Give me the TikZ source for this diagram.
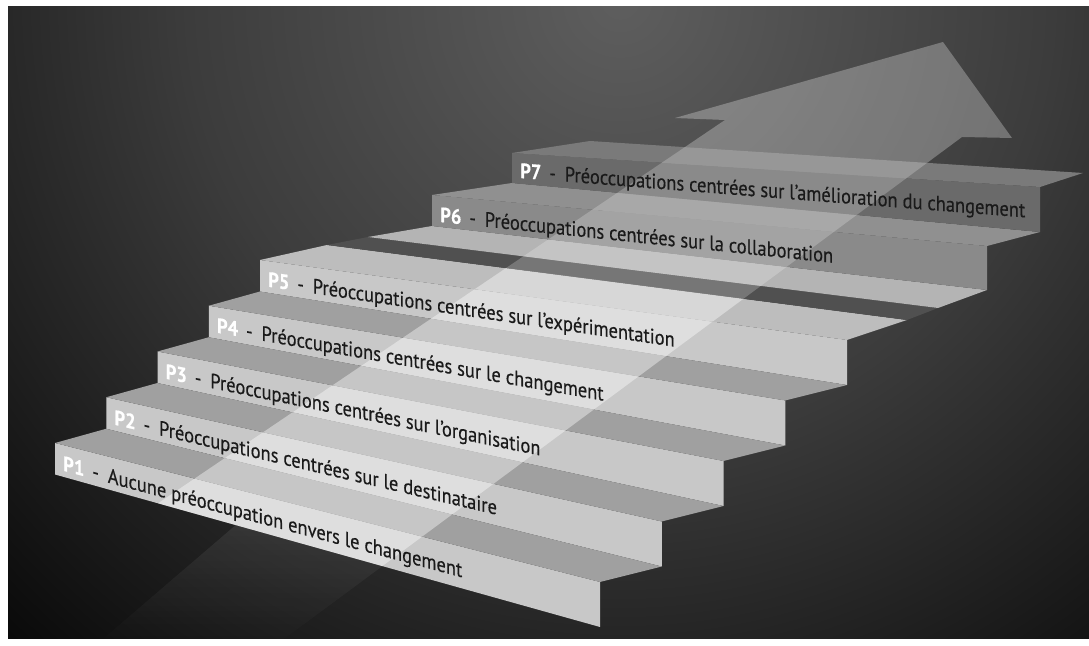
\documentclass[tikz,border=0pt]{standalone}
\usepackage{fontspec}
\setmainfont{PT Sans}
\newfontfamily\labelfont{PT Sans}[FakeBold=0.4]
\usepackage{xcolor}
\usepackage{tikz}
\usetikzlibrary{calc, fadings}

\definecolor{riserC}{HTML}{C8C8C8}
\definecolor{treadC}{HTML}{A0A0A0}
\definecolor{landC}{HTML}{BDBDBD}
\definecolor{gapC}{HTML}{505050}
\definecolor{stripC}{HTML}{B4B4B4}
\definecolor{sixC}{HTML}{8A8A8A}
\definecolor{sixtopC}{HTML}{909090}
\definecolor{sevenC}{HTML}{6A6A6A}
\definecolor{topC}{HTML}{7A7A7A}
\definecolor{inkC}{HTML}{1A1A1A}
\definecolor{bgA}{HTML}{5E5E5E}
\definecolor{bgB}{HTML}{3C3C3C}
\definecolor{bgC}{HTML}{080808}

\pgfdeclareradialshading{bgglow}{\pgfpoint{0bp}{0bp}}{%
  color(0bp)=(bgA); color(12bp)=(bgB); color(25bp)=(bgC); color(50bp)=(bgC)}
\tikzfading[name=tailfade, top color=transparent!0, bottom color=transparent!100]

\newcommand{\pnum}[1]{\textcolor{white}{\bfseries #1}\hspace{4.5pt}-\hspace{5pt}}

\begin{document}
\begin{tikzpicture}[
    x=0.5pt, y=-0.5pt,
    riser/.style={fill=riserC},
    tread/.style={fill=treadC},
    glow/.style={fill=white, fill opacity=#1},
    steplabel/.style={anchor=base west, inner sep=0pt, text=inkC, font=\labelfont\fontsize{10.5}{12}\selectfont},
]

% frame and backdrop
\useasboundingbox (0,0) rectangle (1089,646);
\fill[white] (0,0) rectangle (1089,646);
\coordinate (tailL) at (-59,650);
\coordinate (neckL) at (643.6,175);
\coordinate (notchL) at (725,120);
\coordinate (barbL) at (675,118);
\coordinate (tip) at (943,42);
\coordinate (barbR) at (1012,138);
\coordinate (notchR) at (962,137);
\coordinate (neckR) at (910.7,175);
\coordinate (tailR) at (269,650);
\coordinate (glowL) at (90,650);
\begin{scope}
  \clip (8,7) rectangle (1089,639);
  \shade[shading=bgglow] (620,0) circle (900);
  % big arrow behind the stairs
  \fill[glow=.28] (neckL) -- (notchL) -- (barbL) -- (tip) -- (barbR) -- (notchR) -- (neckR) -- cycle;
  \fill[glow=.3, path fading=tailfade] (glowL) -- (neckL) -- (neckR) -- (tailR) -- cycle;
\end{scope}

% lower steps P1..P5
\foreach \k [count=\i] in {0,...,4} {
  \pgfmathsetmacro\xl{55+51.25*\k}
  \pgfmathsetmacro\tl{443-45.75*\k}
  \pgfmathsetmacro\bl{\tl+31.5}
  \pgfmathsetmacro\xr{600+61.75*\k}
  \pgfmathsetmacro\tr{582-60.5*\k}
  \pgfmathsetmacro\br{\tr+45}
  \coordinate (a\i) at (\xl,\tl);
  \coordinate (b\i) at (\xl,\bl);
  \coordinate (c\i) at (\xr,\tr);
  \coordinate (d\i) at (\xr,\br);
  \fill[riser] (a\i) -- (c\i) -- (d\i) -- (b\i) -- cycle;
}
\foreach \i [count=\j from 2] in {1,...,4}
  \fill[tread] (a\i) -- (c\i) -- (d\j) -- (b\j) -- cycle;
\coordinate (a5b) at (327,245);
\coordinate (c5b) at (907,320);
\fill[landC] (a5) -- (c5) -- (c5b) -- (a5b) -- cycle;

% upper steps P6, P7
\coordinate (g1) at (368,237);
\coordinate (g2) at (938,308);
\coordinate (s1) at (432,226);
\coordinate (s2) at (987,290);
\coordinate (s3) at (432,195);
\coordinate (s4) at (987,246);
\coordinate (t1) at (512,183);
\coordinate (t2) at (1040,232);
\coordinate (t3) at (512,153);
\coordinate (t4) at (1040,187);
\coordinate (u1) at (590,141);
\coordinate (u2) at (1083,173);
\fill[gapC] (a5b) -- (c5b) -- (g2) -- (g1) -- cycle;
\fill[stripC] (g1) -- (g2) -- (s2) -- (s1) -- cycle;
\fill[sixC] (s1) -- (s2) -- (s4) -- (s3) -- cycle;
\fill[sixtopC] (s3) -- (s4) -- (t2) -- (t1) -- cycle;
\fill[sevenC] (t1) -- (t2) -- (t4) -- (t3) -- cycle;
\fill[topC] (t3) -- (t4) -- (u2) -- (u1) -- cycle;

% light of the arrow on the steps
\begin{scope}
  \clip (b1) -- (a1) -- (b2) -- (a2) -- (b3) -- (a3) -- (b4) -- (a4) -- (b5) -- (a5)
    -- (a5b) -- (c5b) -- (c5) -- (d5) -- (c4) -- (d4) -- (c3) -- (d3) -- (c2) -- (d2)
    -- (c1) -- (d1) -- cycle;
  \fill[glow=.4] (tailL) -- (notchL) -- (notchR) -- (tailR) -- cycle;
\end{scope}
\begin{scope}
  \clip (a5b) -- (g1) -- (s1) -- (s3) -- (t1) -- (t3) -- (u1) -- (u2) -- (t4) -- (t2)
    -- (s4) -- (s2) -- (g2) -- (c5b) -- cycle;
  \fill[glow=.22] (tailL) -- (notchL) -- (notchR) -- (tailR) -- cycle;
\end{scope}

% labels
\foreach \k/\txt [count=\i] in {%
    0/{Aucune préoccupation envers le changement},
    1/{Préoccupations centrées sur le destinataire},
    2/{Préoccupations centrées sur l’organisation},
    3/{Préoccupations centrées sur le changement},
    4/{Préoccupations centrées sur l’expérimentation}} {
  \pgfmathsetmacro\xl{55+51.25*\k}
  \pgfmathsetmacro\bl{443-45.75*\k+31.5}
  \pgfmathsetmacro\sl{(145.75-14.75*\k)/(545+10.5*\k)}
  \node[steplabel, yslant=-\sl, xscale=.88] (p\i) at (\xl+8, \bl-6+8*\sl) {\pnum{P\i}\txt};
}
\node[steplabel, yslant=-0.104, xscale=.88] (p6) at (440,222) {\pnum{P6}Préoccupations centrées sur la collaboration};
\node[steplabel, yslant=-0.078, xscale=.88] (p7) at (520,178) {\pnum{P7}Préoccupations centrées sur l’amélioration du changement};

\end{tikzpicture}
\end{document}
